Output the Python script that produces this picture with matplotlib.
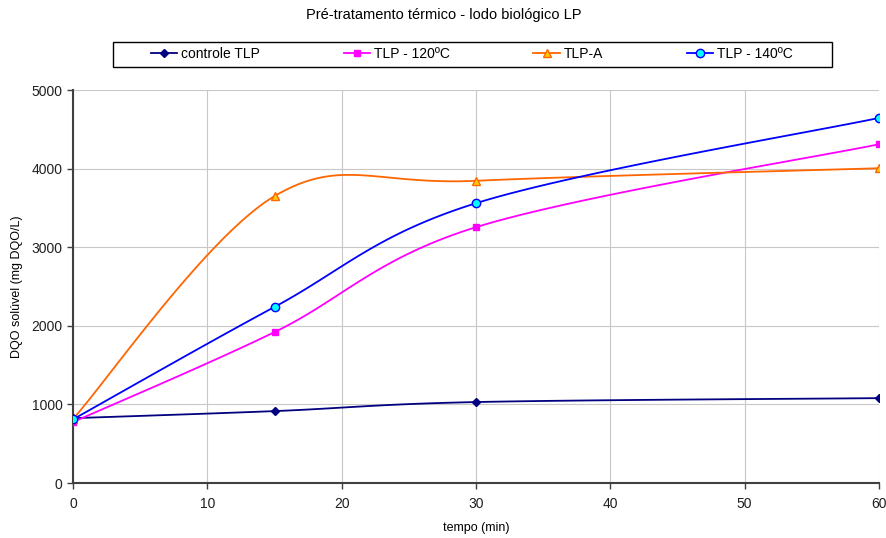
import matplotlib
matplotlib.use("Agg")
import matplotlib.pyplot as plt
from matplotlib.patches import Rectangle
import numpy as np

plt.rcParams["font.family"] = ["Liberation Sans", "DejaVu Sans"]

tempo = [0, 15, 30, 60]
controle = [825, 915, 1030, 1080]
tlp_120 = [775, 1920, 3255, 4310]
tlp_a = [815, 3650, 3845, 4005]
tlp_140 = [810, 2240, 3560, 4645]


def smooth(x, y, n=40):
    # Excel-like smoothed line: cubic Bezier through points (Catmull-Rom tangents)
    p = np.column_stack([x, y]).astype(float)
    ext = np.vstack([p[0], p, p[-1]])
    out = []
    t = np.linspace(0, 1, n)[:, None]
    for i in range(len(p) - 1):
        p0, p1, p2, p3 = ext[i], ext[i + 1], ext[i + 2], ext[i + 3]
        c1 = p1 + (p2 - p0) / 6
        c2 = p2 - (p3 - p1) / 6
        seg = ((1 - t) ** 3) * p1 + 3 * ((1 - t) ** 2) * t * c1 + 3 * (1 - t) * t ** 2 * c2 + t ** 3 * p2
        out.append(seg if i == 0 else seg[1:])
    s = np.vstack(out)
    return s[:, 0], s[:, 1]


fig = plt.figure(figsize=(8.87, 5.38), dpi=100)
ax = fig.add_axes([0.0823, 0.1022, 0.9087, 0.7305])

series = [
    ("controle TLP", controle, "#000080", "D", "#000080", "#000080", 4),
    ("TLP - 120ºC", tlp_120, "#FF00FF", "s", "#FF00FF", "#FF00FF", 5),
    ("TLP-A", tlp_a, "#FF6600", "^", "#FFCC00", "#FF6600", 6),
    ("TLP - 140ºC", tlp_140, "#0000FF", "o", "#00FFFF", "#0000FF", 6),
]

handles = []
for label, vals, col, mk, fc, ec, ms in series:
    sx, sy = smooth(tempo, vals)
    ax.plot(sx, sy, color=col, lw=1.3, zorder=3)
    ax.plot(tempo, vals, ls="none", marker=mk, mfc=fc, mec=ec, ms=ms, zorder=4)
    h, = ax.plot([], [], color=col, lw=1.3, marker=mk, mfc=fc, mec=ec, ms=ms)
    handles.append(h)

ax.set_xlim(0, 60)
ax.set_ylim(0, 5000)
ax.set_xticks(range(0, 61, 10))
ax.set_yticks(range(0, 5001, 1000))
ax.grid(True, color="#C8C8C8", lw=0.8)
ax.set_axisbelow(True)
for s in ["top", "right"]:
    ax.spines[s].set_visible(False)
for s in ["left", "bottom"]:
    ax.spines[s].set_color("#404040")
    ax.spines[s].set_linewidth(1.5)
ax.tick_params(direction="out", length=4, width=1, color="#404040", labelsize=10, labelcolor="#202020")
ax.tick_params(axis="x", pad=6)

ax.set_xlabel("tempo (min)", fontsize=9, labelpad=8)
ax.set_ylabel("DQO solúvel (mg DQO/L)", fontsize=9)
ax.yaxis.set_label_coords(-0.062, 0.5)
fig.text(0.5, 0.972, "Pré-tratamento térmico - lodo biológico LP", ha="center", va="center", fontsize=10.5)

leg = fig.legend(handles, [s[0] for s in series], loc="center", bbox_to_anchor=(0.532, 0.9),
                 ncol=4, frameon=False, fontsize=10, handlelength=1.9,
                 columnspacing=6.0, handletextpad=0.3)
fig.patches.append(Rectangle((113 / 887, 1 - 67 / 538), (832 - 113) / 887, 25 / 538,
                             transform=fig.transFigure, fill=False, ec="black", lw=1))

fig.savefig("out.png", dpi=100)
